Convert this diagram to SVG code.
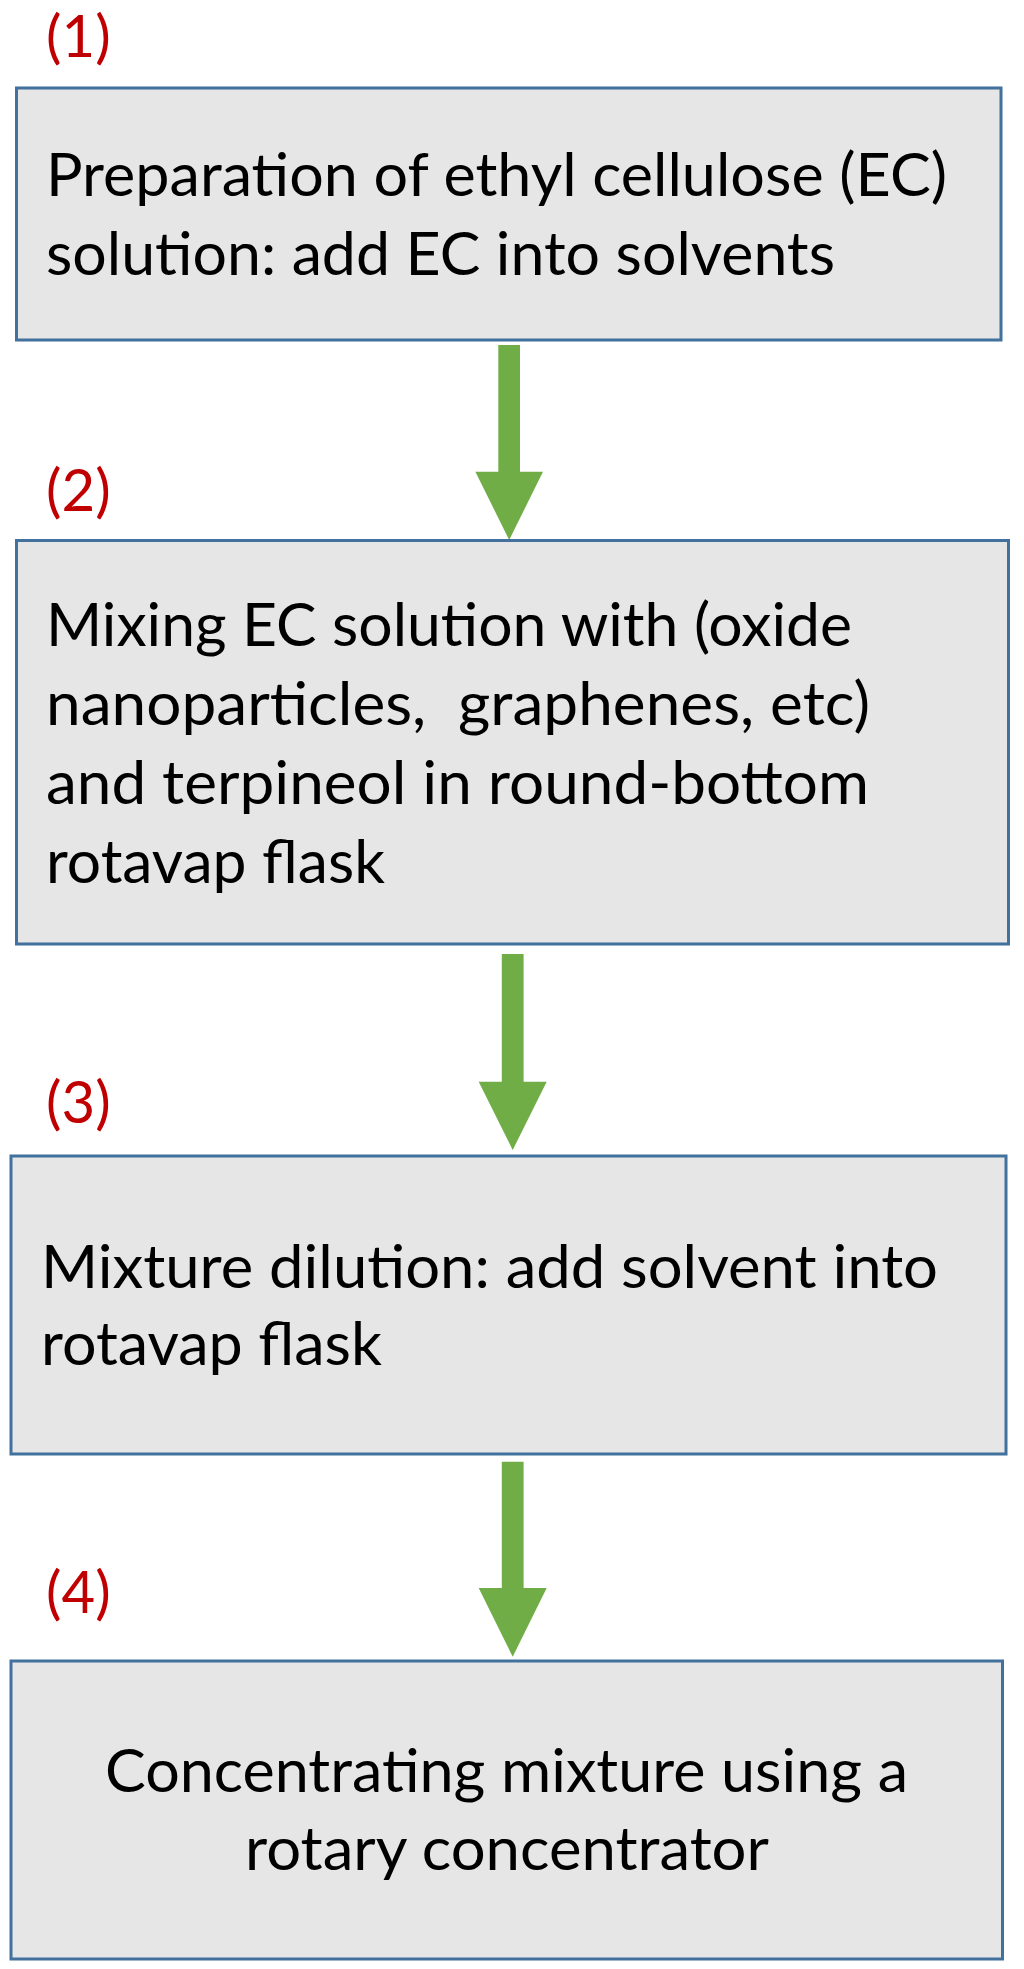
<svg xmlns="http://www.w3.org/2000/svg" width="1024" height="1969" viewBox="0 0 1024 1969">
<style>
.box{fill:#E6E6E6;stroke:#41719C;stroke-width:3}
.t{font-family:Lato,"Liberation Sans",sans-serif;font-size:60px;fill:#000}
.lbl{font-family:Lato,"Liberation Sans",sans-serif;font-size:58px;fill:#C00000}
.arr{fill:#70AD47}
</style>
<rect width="1024" height="1969" fill="#FFFFFF"/>
<g id="connectors">
<path class="arr" d="M498.3,345 H520 V471.7 H543 L509.2,540 L475.4,471.7 H498.3 Z"/>
<path class="arr" d="M501.8,954 H523.6 V1081.7 H546.7 L512.7,1150 L478.7,1081.7 H501.8 Z"/>
<path class="arr" d="M501.8,1461.7 H523.6 V1588 H546.7 L512.7,1656.7 L478.7,1588 H501.8 Z"/>
</g>
<g id="label1"><text class="lbl" x="46" y="57">(1)</text></g>
<g id="label2"><text class="lbl" x="46" y="511">(2)</text></g>
<g id="label3"><text class="lbl" x="46" y="1123">(3)</text></g>
<g id="label4"><text class="lbl" x="46" y="1613">(4)</text></g>
<g id="node1">
<rect class="box" x="16.5" y="88" width="984.5" height="252"/>
<text class="t" x="46" y="196" textLength="901" lengthAdjust="spacingAndGlyphs">Preparation of ethyl cellulose (EC)</text>
<text class="t" x="46" y="275" textLength="789" lengthAdjust="spacingAndGlyphs">solution: add EC into solvents</text>
</g>
<g id="node2">
<rect class="box" x="16.5" y="540.5" width="992" height="403.5"/>
<text class="t" x="46" y="646" textLength="806" lengthAdjust="spacingAndGlyphs">Mixing EC solution with (oxide</text>
<text class="t" x="46" y="725" textLength="824" lengthAdjust="spacingAndGlyphs" xml:space="preserve">nanoparticles,  graphenes, etc)</text>
<text class="t" x="46" y="804" textLength="823" lengthAdjust="spacingAndGlyphs">and terpineol in round-bottom</text>
<text class="t" x="46" y="882.5" textLength="339" lengthAdjust="spacingAndGlyphs">rotavap flask</text>
</g>
<g id="node3">
<rect class="box" x="11" y="1156" width="995" height="298"/>
<text class="t" x="41" y="1287.5" textLength="897" lengthAdjust="spacingAndGlyphs">Mixture dilution: add solvent into</text>
<text class="t" x="41" y="1365" textLength="341" lengthAdjust="spacingAndGlyphs">rotavap flask</text>
</g>
<g id="node4">
<rect class="box" x="11" y="1661" width="991.5" height="298"/>
<text class="t" x="506.5" y="1791.5" text-anchor="middle" textLength="803" lengthAdjust="spacingAndGlyphs">Concentrating mixture using a</text>
<text class="t" x="507" y="1870" text-anchor="middle" textLength="524" lengthAdjust="spacingAndGlyphs">rotary concentrator</text>
</g>
</svg>
